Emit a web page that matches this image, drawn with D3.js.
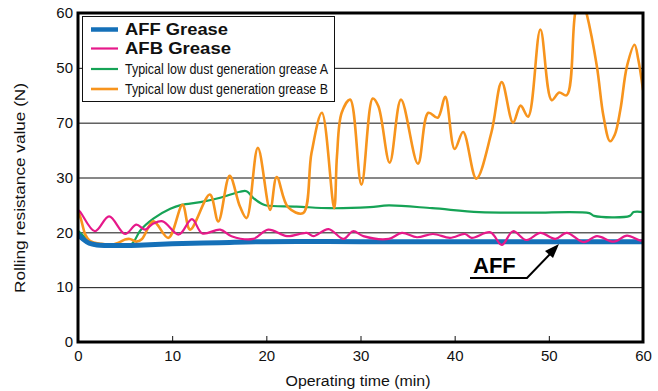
<!DOCTYPE html>
<html><head><meta charset="utf-8">
<script src="https://cdn.jsdelivr.net/npm/d3@7"></script>
<style>
html,body{margin:0;padding:0;background:#fff;}
svg{display:block;font-family:"Liberation Sans",Arial,Helvetica,sans-serif;}
</style></head>
<body><svg id="c" width="658" height="391"></svg>
<script>
// ---- data ----
const yTickValues = [0, 10, 20, 30, 40, 50, 60];
const yTickLabels = ["0", "10", "20", "30", "70", "50", "60"];
const xTickValues = [0, 10, 20, 30, 40, 50, 60];
const xTickLabels = ["0", "10", "20", "30", "40", "50", "60"];
const seriesNames = ["AFF Grease", "AFB Grease", "Typical low dust generation grease A", "Typical low dust generation grease B"];

const affTime  = [0, 0.5, 1.2, 2, 5, 7, 10, 15, 20, 30, 40, 50, 60];
const affValue = [19.6, 18.8, 18.0, 17.7, 17.6, 17.7, 17.9, 18.1, 18.3, 18.3, 18.3, 18.3, 18.3];

const afbTime  = [0, 0.2, 1.8, 3.3, 5.0, 6.2, 7.1, 8.0, 9.0, 10.7, 12.1, 13.2, 15.1, 16.3, 18.6, 20.2, 22.2, 24.3, 25.0, 26.6, 28.2, 29.2, 30.3, 33.0, 34.4, 36.0, 37.7, 39.5, 41.1, 41.8, 43.8, 45.0, 46.2, 47.6, 49.1, 50.7, 51.9, 53.7, 55.1, 56.9, 58.3, 59.7, 60];
const afbValue = [24.0, 23.8, 20.2, 22.9, 19.7, 21.4, 20.5, 21.6, 22.0, 19.6, 22.4, 19.8, 20.5, 19.3, 18.8, 20.5, 19.3, 19.9, 19.3, 20.6, 18.8, 20.2, 19.3, 18.8, 19.9, 19.1, 19.7, 19.0, 19.7, 19.0, 20.0, 17.7, 20.2, 18.6, 19.9, 18.8, 19.9, 18.2, 19.3, 18.3, 19.4, 18.5, 18.6];

const grATime  = [0, 0.8, 1.5, 3, 5.5, 6.0, 6.6, 8.0, 9.8, 11.0, 13.0, 15.1, 17.2, 17.9, 18.6, 19.5, 20.0, 23.2, 26.8, 31.0, 33.0, 37.6, 42.6, 48.0, 54.3, 54.8, 58.6, 59.0, 60];
const grAValue = [20.3, 19.0, 17.8, 17.5, 17.6, 18.5, 20.3, 22.5, 24.3, 25.0, 25.5, 26.3, 27.4, 27.5, 26.3, 25.2, 24.9, 24.7, 24.4, 24.6, 24.9, 24.4, 23.7, 23.6, 23.5, 23.0, 23.0, 23.7, 23.7];

const grBTime  = [0, 0.3, 0.8, 1.3, 2.5, 3.5, 4.3, 5.0, 5.5, 6.2, 6.8, 8.0, 9.6, 11.1, 11.9, 14.0, 14.9, 16.1, 17.2, 17.9, 19.1, 20.4, 21.1, 22.3, 23.9, 24.8, 25.9, 27.2, 27.5, 28.0, 28.9, 30.1, 31.3, 31.9, 33.1, 34.3, 36.1, 37.2, 38.2, 39.0, 40.0, 40.9, 42.3, 43.9, 45.0, 46.2, 47.0, 47.8, 49.1, 50.3, 51.1, 51.9, 52.8, 53.4, 54.0, 55.1, 55.8, 56.5, 57.0, 57.6, 58.3, 59.1, 59.5, 60];
const grBValue = [24.0, 22.5, 19.5, 18.4, 17.9, 17.7, 18.1, 18.7, 18.8, 18.3, 18.8, 22.0, 19.0, 25.0, 20.5, 26.9, 22.0, 30.3, 24.7, 22.6, 35.4, 24.1, 30.1, 24.6, 23.5, 34.5, 41.8, 24.4, 33.9, 41.8, 44.2, 28.7, 44.4, 43.0, 32.7, 44.2, 32.5, 41.8, 40.9, 44.7, 35.2, 38.3, 29.8, 38.2, 47.4, 40.0, 43.1, 41.1, 57.0, 44.1, 45.5, 45.0, 60.0, 63.5, 60.0, 50.3, 41.2, 36.6, 37.8, 42.4, 50.3, 54.2, 51.5, 46.0];

// ---- chart ----
const svg = d3.select("#c");
const L = 78, R = 643, T = 13, B = 342;
const x = d3.scaleLinear().domain([0, 60]).range([L, R]);
const y = d3.scaleLinear().domain([0, 60]).range([B, T]);

// gridlines + y labels
const yAxis = svg.append("g").attr("transform", `translate(${L},0)`)
  .call(d3.axisLeft(y).tickValues(yTickValues).tickSize(-(R - L)).tickPadding(5)
    .tickFormat((d, i) => yTickLabels[i]));
yAxis.select(".domain").remove();
yAxis.selectAll(".tick line").attr("stroke", "#111").attr("stroke-width", 1)
  .filter(d => d === 0 || d === 60).remove();
yAxis.selectAll(".tick text").attr("font-size", 15).attr("fill", "#111")
  .attr("font-family", "Liberation Sans, Arial, sans-serif");

// x axis ticks (inward) + labels
const xAxis = svg.append("g").attr("transform", `translate(0,${B})`)
  .call(d3.axisBottom(x).tickValues(xTickValues).tickSize(-6).tickPadding(8)
    .tickFormat((d, i) => xTickLabels[i]));
xAxis.select(".domain").remove();
xAxis.selectAll(".tick line").attr("stroke", "#111").attr("stroke-width", 1)
  .filter(d => d === 0 || d === 60).remove();
xAxis.selectAll(".tick text").attr("font-size", 15).attr("fill", "#111")
  .attr("font-family", "Liberation Sans, Arial, sans-serif");

// clip
svg.append("clipPath").attr("id", "clip").append("rect")
  .attr("x", L).attr("y", T).attr("width", R - L).attr("height", B - T);

const line = d3.line().x(d => x(d[0])).y(d => y(d[1])).curve(d3.curveCatmullRom.alpha(0.5));
const zip = (a, b) => a.map((t, i) => [t, b[i]]);

const plot = svg.append("g").attr("clip-path", "url(#clip)");
const series = [
  { t: grATime, v: grAValue, color: "#16a356", w: 2.2 },
  { t: grBTime, v: grBValue, color: "#f7941d", w: 2.6 },
  { t: affTime, v: affValue, color: "#1570b8", w: 5 },
  { t: afbTime, v: afbValue, color: "#e6198a", w: 2.2 }
];
series.forEach(s => {
  plot.append("path").datum(zip(s.t, s.v)).attr("d", line)
    .attr("fill", "none").attr("stroke", s.color).attr("stroke-width", s.w)
    .attr("stroke-linejoin", "round").attr("stroke-linecap", "round");
});

// legend
const lg = svg.append("g");
lg.append("rect").attr("x", 82.5).attr("y", 16.5).attr("width", 252).attr("height", 85)
  .attr("fill", "#fff").attr("stroke", "#111").attr("stroke-width", 1);
const legendColors = ["#1570b8", "#e6198a", "#16a356", "#f7941d"];
const legendW = [4.5, 2.2, 2.2, 2.6];
const legendLineY = [29.5, 48.5, 69, 89];
const legendTextY = [35, 54, 74, 94];
const legendTextLen = [103, 106, 203, 203];
seriesNames.forEach((n, i) => {
  lg.append("line").attr("x1", 91).attr("x2", 118).attr("y1", legendLineY[i]).attr("y2", legendLineY[i])
    .attr("stroke", legendColors[i]).attr("stroke-width", legendW[i]);
  const tx = lg.append("text").attr("x", 125).attr("y", legendTextY[i]).text(n)
    .attr("fill", "#111")
    .attr("textLength", legendTextLen[i]).attr("lengthAdjust", "spacingAndGlyphs");
  if (i < 2) tx.attr("font-size", 17).attr("font-weight", "bold");
  else tx.attr("font-size", 14).attr("font-family", "Liberation Sans Narrow, Liberation Sans, Arial, sans-serif");
});

// frame
svg.append("rect").attr("x", L).attr("y", T).attr("width", R - L).attr("height", B - T)
  .attr("fill", "none").attr("stroke", "#000").attr("stroke-width", 3);

// annotation
const ann = svg.append("g");
ann.append("text").attr("x", 473).attr("y", 273).text("AFF")
  .attr("font-size", 22).attr("font-weight", "bold").attr("fill", "#000");
ann.append("path").attr("d", "M470,278 L527,278 L552,252")
  .attr("fill", "none").attr("stroke", "#000").attr("stroke-width", 2);
ann.append("path").attr("d", "M559,244 L545,251 L553,258 Z").attr("fill", "#000");

// axis titles
svg.append("text").attr("x", 358).attr("y", 386).attr("text-anchor", "middle")
  .attr("font-size", 15.5).attr("fill", "#111")
  .attr("textLength", 145).attr("lengthAdjust", "spacingAndGlyphs").text("Operating time (min)");
svg.append("text").attr("transform", "translate(25,188) rotate(-90)").attr("text-anchor", "middle")
  .attr("font-size", 15.5).attr("fill", "#111")
  .attr("textLength", 210).attr("lengthAdjust", "spacingAndGlyphs").text("Rolling resistance value (N)");
</script></body></html>
